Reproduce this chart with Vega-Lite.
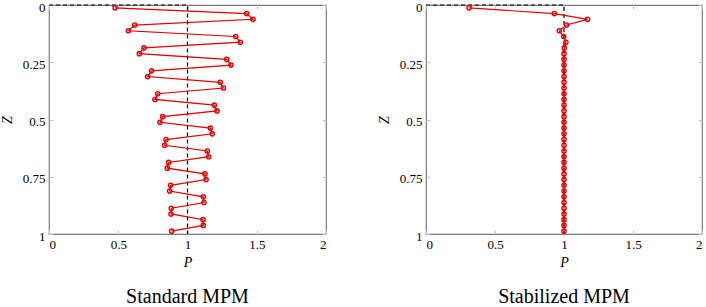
{
  "$schema": "https://vega.github.io/schema/vega-lite/v6.json",
  "autosize": {"type": "none"},
  "padding": {"left": 49, "top": 5, "right": 657, "bottom": 302},
  "spacing": 100,
  "bounds": "flush",
  "config": {
    "font": "Liberation Serif, DejaVu Serif, serif",
    "view": {"stroke": "#7a7a7a", "strokeWidth": 1.2},
    "axis": {
      "grid": false,
      "domain": false,
      "tickSize": -4,
      "tickColor": "#c4c4c4",
      "tickWidth": 1,
      "labelFont": "Liberation Serif, DejaVu Serif, serif",
      "labelFontSize": 13,
      "labelColor": "#000000",
      "titleFont": "Liberation Serif, DejaVu Serif, serif",
      "titleFontSize": 14,
      "titleFontStyle": "italic",
      "titleFontWeight": "normal",
      "titleColor": "#000000",
      "labelPadding": 8
    }
  },
  "datasets": {
    "exact": [
      {"i": 0, "P": 0, "Z": 0},
      {"i": 1, "P": 1, "Z": 0},
      {"i": 2, "P": 1, "Z": 1}
    ],
    "standard": [
      {"Z": 0.0125, "P": 0.477}, {"Z": 0.0375, "P": 1.427}, {"Z": 0.0625, "P": 1.473}, {"Z": 0.0875, "P": 0.619},
      {"Z": 0.1125, "P": 0.573}, {"Z": 0.1375, "P": 1.348}, {"Z": 0.1625, "P": 1.381}, {"Z": 0.1875, "P": 0.686},
      {"Z": 0.2125, "P": 0.652}, {"Z": 0.2375, "P": 1.283}, {"Z": 0.2625, "P": 1.314}, {"Z": 0.2875, "P": 0.741},
      {"Z": 0.3125, "P": 0.712}, {"Z": 0.3375, "P": 1.237}, {"Z": 0.3625, "P": 1.259}, {"Z": 0.3875, "P": 0.785},
      {"Z": 0.4125, "P": 0.765}, {"Z": 0.4375, "P": 1.194}, {"Z": 0.4625, "P": 1.213}, {"Z": 0.4875, "P": 0.821},
      {"Z": 0.5125, "P": 0.801}, {"Z": 0.5375, "P": 1.165}, {"Z": 0.5625, "P": 1.179}, {"Z": 0.5875, "P": 0.845},
      {"Z": 0.6125, "P": 0.835}, {"Z": 0.6375, "P": 1.143}, {"Z": 0.6625, "P": 1.153}, {"Z": 0.6875, "P": 0.864},
      {"Z": 0.7125, "P": 0.854}, {"Z": 0.7375, "P": 1.126}, {"Z": 0.7625, "P": 1.134}, {"Z": 0.7875, "P": 0.878},
      {"Z": 0.8125, "P": 0.871}, {"Z": 0.8375, "P": 1.114}, {"Z": 0.8625, "P": 1.119}, {"Z": 0.8875, "P": 0.883},
      {"Z": 0.9125, "P": 0.881}, {"Z": 0.9375, "P": 1.112}, {"Z": 0.9625, "P": 1.114}, {"Z": 0.9875, "P": 0.886}
    ],
    "stabilized": [
      {"Z": 0.0125, "P": 0.312}, {"Z": 0.0375, "P": 0.930}, {"Z": 0.0625, "P": 1.171}, {"Z": 0.0875, "P": 1.019},
      {"Z": 0.1125, "P": 0.966}, {"Z": 0.1375, "P": 0.998}, {"Z": 0.1625, "P": 1.014}, {"Z": 0.1875, "P": 1.002},
      {"Z": 0.2125, "P": 1.0}, {"Z": 0.2375, "P": 1.0}, {"Z": 0.2625, "P": 1.0}, {"Z": 0.2875, "P": 1.0},
      {"Z": 0.3125, "P": 1.0}, {"Z": 0.3375, "P": 1.0}, {"Z": 0.3625, "P": 1.0}, {"Z": 0.3875, "P": 1.0},
      {"Z": 0.4125, "P": 1.0}, {"Z": 0.4375, "P": 1.0}, {"Z": 0.4625, "P": 1.0}, {"Z": 0.4875, "P": 1.0},
      {"Z": 0.5125, "P": 1.0}, {"Z": 0.5375, "P": 1.0}, {"Z": 0.5625, "P": 1.0}, {"Z": 0.5875, "P": 1.0},
      {"Z": 0.6125, "P": 1.0}, {"Z": 0.6375, "P": 1.0}, {"Z": 0.6625, "P": 1.0}, {"Z": 0.6875, "P": 1.0},
      {"Z": 0.7125, "P": 1.0}, {"Z": 0.7375, "P": 1.0}, {"Z": 0.7625, "P": 1.0}, {"Z": 0.7875, "P": 1.0},
      {"Z": 0.8125, "P": 1.0}, {"Z": 0.8375, "P": 1.0}, {"Z": 0.8625, "P": 1.0}, {"Z": 0.8875, "P": 1.0},
      {"Z": 0.9125, "P": 1.0}, {"Z": 0.9375, "P": 1.0}, {"Z": 0.9625, "P": 1.0}, {"Z": 0.9875, "P": 1.0}
    ]
  },
  "hconcat": [
    {
      "width": 277,
      "height": 229,
      "title": {"text": "Standard MPM", "orient": "bottom", "fontSize": 20, "fontWeight": "normal", "font": "Liberation Serif, DejaVu Serif, serif", "color": "#000000", "offset": 18},
      "resolve": {"axis": {"x": "independent", "y": "independent"}},
      "layer": [
        {
          "data": {"name": "exact"},
          "mark": {"type": "line", "color": "#000000", "strokeDash": [4, 3], "strokeWidth": 1.2},
          "encoding": {
            "x": {"field": "P", "type": "quantitative", "scale": {"domain": [0, 2], "nice": false}, "axis": {"orient": "bottom", "title": "P", "values": [0, 0.5, 1, 1.5, 2], "labelExpr": "format(datum.value, '~g')"}},
            "y": {"field": "Z", "type": "quantitative", "scale": {"domain": [0, 1], "reverse": true, "nice": false}, "axis": {"orient": "left", "title": "Z", "titlePadding": 8, "labelOffset": 2, "values": [0, 0.25, 0.5, 0.75, 1], "labelExpr": "format(datum.value, '~g')"}},
            "order": {"field": "i"}
          }
        },
        {
          "data": {"name": "standard"},
          "mark": {"type": "line", "color": "#e00000", "strokeWidth": 1.2, "point": {"filled": false, "shape": "circle", "size": 18, "strokeWidth": 1.4, "color": "#e00000"}},
          "encoding": {
            "x": {"field": "P", "type": "quantitative", "axis": {"orient": "top", "title": null, "labels": false, "values": [0, 0.5, 1, 1.5, 2]}},
            "y": {"field": "Z", "type": "quantitative", "axis": {"orient": "right", "title": null, "labels": false, "values": [0, 0.25, 0.5, 0.75, 1]}},
            "order": {"field": "Z"}
          }
        }
      ]
    },
    {
      "width": 276,
      "height": 229,
      "title": {"text": "Stabilized MPM", "orient": "bottom", "fontSize": 20, "fontWeight": "normal", "font": "Liberation Serif, DejaVu Serif, serif", "color": "#000000", "offset": 18},
      "resolve": {"axis": {"x": "independent", "y": "independent"}},
      "layer": [
        {
          "data": {"name": "exact"},
          "mark": {"type": "line", "color": "#000000", "strokeDash": [4, 3], "strokeWidth": 1.2},
          "encoding": {
            "x": {"field": "P", "type": "quantitative", "scale": {"domain": [0, 2], "nice": false}, "axis": {"orient": "bottom", "title": "P", "values": [0, 0.5, 1, 1.5, 2], "labelExpr": "format(datum.value, '~g')"}},
            "y": {"field": "Z", "type": "quantitative", "scale": {"domain": [0, 1], "reverse": true, "nice": false}, "axis": {"orient": "left", "title": "Z", "titlePadding": 8, "labelOffset": 2, "values": [0, 0.25, 0.5, 0.75, 1], "labelExpr": "format(datum.value, '~g')"}},
            "order": {"field": "i"}
          }
        },
        {
          "data": {"name": "stabilized"},
          "mark": {"type": "line", "color": "#e00000", "strokeWidth": 1.2, "point": {"filled": false, "shape": "circle", "size": 18, "strokeWidth": 1.4, "color": "#e00000"}},
          "encoding": {
            "x": {"field": "P", "type": "quantitative", "axis": {"orient": "top", "title": null, "labels": false, "values": [0, 0.5, 1, 1.5, 2]}},
            "y": {"field": "Z", "type": "quantitative", "axis": {"orient": "right", "title": null, "labels": false, "values": [0, 0.25, 0.5, 0.75, 1]}},
            "order": {"field": "Z"}
          }
        }
      ]
    }
  ]
}
